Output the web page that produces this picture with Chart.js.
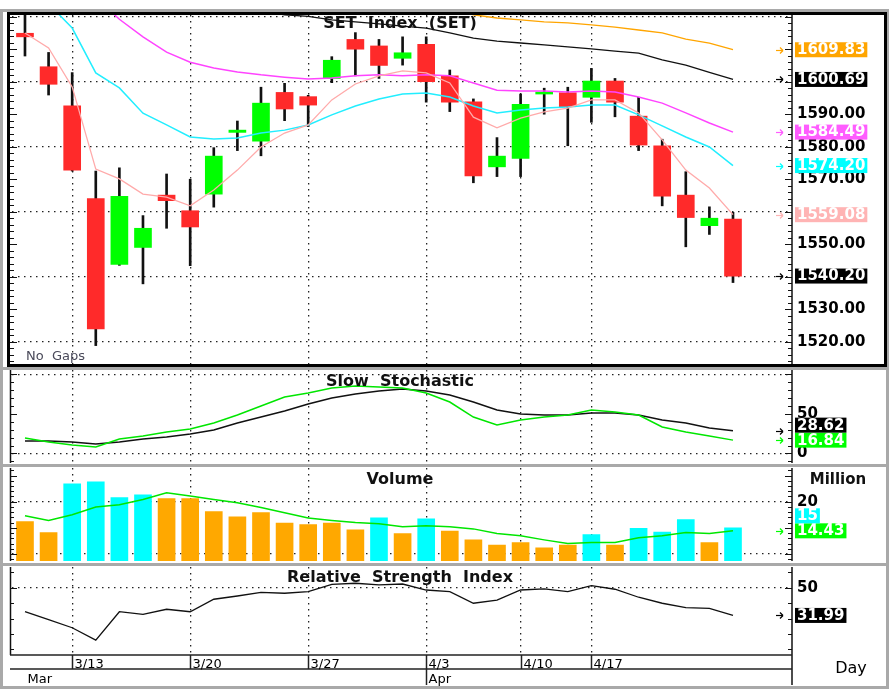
<!DOCTYPE html>
<html>
<head>
<meta charset="utf-8">
<script src="https://cdn.jsdelivr.net/npm/chart.js@4.4.0/dist/chart.umd.min.js"></script>
<style>
    html, body { margin: 0; padding: 0; background: #fff; }
    #wrap { position: relative; width: 890px; height: 691px; overflow: hidden; background: #fff; }
    #wrap canvas { position: absolute; left: 0; }
    .box { position: absolute; box-sizing: border-box; }
</style>
</head>
<body>
<div id="wrap">
    <div class="box" style="left:0;top:9px;width:889px;height:680px;border:3px solid #a9a9a9;"></div>
    <div class="box" style="left:7px;top:12px;width:880px;height:355px;border:3px solid #000;"></div>
    <div class="box" style="left:0;top:367px;width:889px;height:3px;background:#a9a9a9;"></div>
    <div class="box" style="left:0;top:464px;width:889px;height:3px;background:#a9a9a9;"></div>
    <div class="box" style="left:0;top:563px;width:889px;height:3px;background:#a9a9a9;"></div>
    <canvas id="priceChart" width="890" height="349" style="top:15px"></canvas>
    <canvas id="stochChart" width="890" height="93" style="top:370px"></canvas>
    <canvas id="volChart" width="890" height="93" style="top:468px"></canvas>
    <canvas id="rsiChart" width="890" height="121" style="top:567px"></canvas>
</div>
<script>
// Trading days
const days = ['3/9', '3/10', '3/13', '3/14', '3/15', '3/16', '3/17', '3/20', '3/21', '3/22', '3/23', '3/24',
    '3/27', '3/28', '3/29', '3/30', '3/31', '4/3', '4/4', '4/5', '4/7', '4/10', '4/11', '4/12',
    '4/17', '4/18', '4/19', '4/20', '4/21', '4/24', '4/25'];
const dateTicks = ['3/13', '3/20', '3/27', '4/3', '4/10', '4/17'];
const months = ['Mar', 'Apr'];
const monthStarts = ['3/9', '4/3'];

// SET index candles
const open = [1614.9, 1604.6, 1592.6, 1564.0, 1543.8, 1549.0, 1565.1, 1560.3, 1565.4, 1584.4, 1581.7, 1596.7, 1595.4, 1601.0, 1613.0, 1611.0,
    1607.2, 1611.5, 1601.8, 1593.8, 1573.8, 1576.4, 1596.2, 1596.6, 1595.2, 1600.2, 1589.4, 1580.3, 1565.1, 1555.7, 1557.7];
const high = [1621.0, 1609.0, 1602.8, 1572.5, 1573.5, 1558.8, 1571.6, 1570.0, 1579.7, 1587.9, 1598.3, 1599.5, 1595.8, 1607.7, 1615.1, 1613.0,
    1613.8, 1613.8, 1603.6, 1594.7, 1582.8, 1596.2, 1598.0, 1598.3, 1604.1, 1601.0, 1595.2, 1582.3, 1572.3, 1561.5, 1559.8];
const low = [1607.9, 1595.9, 1572.5, 1518.8, 1543.5, 1537.8, 1554.9, 1543.4, 1561.4, 1578.8, 1577.2, 1588.0, 1586.2, 1599.7, 1601.8, 1601.0,
    1605.1, 1593.7, 1590.8, 1568.9, 1570.8, 1570.8, 1590.0, 1580.3, 1587.5, 1589.2, 1578.8, 1561.8, 1549.2, 1553.0, 1538.2];
const close = [1613.8, 1599.2, 1572.8, 1523.9, 1564.7, 1554.9, 1563.4, 1555.3, 1577.1, 1585.1, 1593.4, 1591.6, 1592.8, 1606.6, 1610.0, 1605.0,
    1608.9, 1600.0, 1593.7, 1571.0, 1577.1, 1593.0, 1596.7, 1592.3, 1600.2, 1593.7, 1580.5, 1564.8, 1558.2, 1558.0, 1540.2];

// Moving averages
const pinkMA = [1615.0, 1610.4, 1598.4, 1573.1, 1570.1, 1565.4, 1564.5, 1561.8, 1566.7, 1572.8, 1579.9, 1584.2, 1586.7, 1594.4, 1599.3, 1601.8,
    1603.3, 1602.7, 1599.6, 1589.1, 1585.8, 1588.8, 1590.7, 1591.9, 1594.4, 1594.4, 1590.4, 1582.1, 1572.8, 1567.3, 1559.08];
const cyanMA = [null, 1624.0, 1616.5, 1602.7, 1598.1, 1590.3, 1586.7, 1583.0, 1582.4, 1582.7, 1584.2, 1585.1, 1586.7, 1589.8, 1592.5, 1594.7,
    1596.2, 1596.5, 1595.3, 1592.5, 1590.4, 1591.3, 1591.9, 1592.2, 1592.8, 1592.8, 1589.8, 1586.4, 1583.0, 1579.9, 1574.20];
const magentaMA = [null, null, null, 1626.0, 1619.2, 1613.8, 1609.1, 1606.0, 1604.2, 1603.0, 1602.1, 1601.4, 1600.8, 1601.1, 1601.8, 1602.1,
    1601.8, 1602.1, 1601.8, 1599.6, 1597.4, 1597.1, 1597.1, 1596.8, 1597.1, 1596.8, 1595.3, 1593.4, 1590.4, 1587.3, 1584.49];
const blackMA = [null, null, null, null, null, null, null, null, null, null, 1621.5, 1620.6, 1620.1, 1619.0, 1618.4, 1617.8,
    1617.1, 1616.5, 1615.0, 1613.4, 1612.5, 1611.9, 1611.3, 1610.7, 1610.1, 1609.4, 1608.8, 1606.7, 1605.1, 1602.9, 1600.69];
const orangeMA = [null, null, null, null, null, null, null, null, null, null, null, null, null, null, null, null,
    null, null, 1622.0, 1620.6, 1619.6, 1619.0, 1618.4, 1618.1, 1617.5, 1616.8, 1615.9, 1615.0, 1613.1, 1611.9, 1609.83];

// Slow stochastic
const stochD = [15.8, 15.8, 14.5, 12.0, 14.5, 18.3, 20.8, 24.6, 29.6, 38.5, 46.0, 53.6, 62.4, 70.0, 75.0, 78.8,
    81.3, 78.8, 73.8, 64.9, 54.9, 49.8, 48.5, 48.5, 51.1, 51.1, 48.5, 42.2, 38.5, 32.2, 28.62];
const stochK = [19.5, 14.5, 10.7, 8.2, 18.3, 22.1, 27.1, 30.9, 38.5, 48.5, 59.9, 71.2, 76.3, 82.6, 85.1, 83.9,
    82.6, 76.3, 64.9, 46.0, 35.9, 42.2, 46.0, 48.5, 54.9, 52.3, 48.5, 33.4, 27.1, 22.1, 16.84];

// Volume (million)
const volume = [16.2, 14.1, 23.4, 23.8, 20.8, 21.3, 20.6, 20.6, 18.1, 17.1, 17.9, 15.9, 15.6, 15.9, 14.6, 16.9,
    13.9, 16.7, 14.4, 12.7, 11.7, 12.2, 11.2, 11.7, 13.7, 11.7, 14.9, 14.2, 16.6, 12.2, 15.0];
const volumeMA = [17.3, 16.4, 17.5, 19.0, 19.4, 20.4, 21.7, 21.1, 20.4, 19.8, 18.9, 17.9, 16.9, 16.4, 16.0, 15.8,
    15.2, 15.4, 15.2, 14.8, 13.9, 13.5, 12.7, 12.0, 12.2, 12.2, 13.1, 13.5, 14.1, 13.9, 14.43];

// RSI
const rsi = [34.4, 29.2, 24.0, 16.0, 34.4, 32.7, 36.0, 34.4, 42.5, 44.6, 47.0, 46.4, 47.4, 52.2, 52.9, 51.8,
    52.4, 48.5, 47.4, 39.9, 42.0, 48.5, 49.2, 47.4, 51.3, 49.0, 43.8, 39.9, 37.0, 36.6, 31.99];

// Layout
const FONT = '"DejaVu Sans", sans-serif';
const X_MIN = -0.55;
const X_MAX = 32.5;
const AXIS_W = 98;
const gridIdx = dateTicks.map(d => days.indexOf(d));

const RED = '#ff2a2a';
const GREEN = '#00ff00';
const ORANGE = '#ffa500';
const CYAN = '#00ffff';

Chart.defaults.font.family = FONT;

function xy(arr) {
    return arr.map((v, i) => ({ x: i, y: v }));
}

function xScale() {
    return {
        type: 'linear', position: 'bottom', min: X_MIN, max: X_MAX, offset: false,
        afterBuildTicks: s => { s.ticks = gridIdx.map(v => ({ value: v })); },
        afterFit: s => { s.height = 0; s.paddingLeft = 0; s.paddingRight = 0; },
        ticks: { display: false },
        grid: { color: '#222', lineWidth: 1.3, drawTicks: false, offset: false },
        border: { display: false, dash: [1.5, 4.5] }
    };
}

function yScale(min, max, step, labelVals, gridVals, fmt, boxVals, hideUnits) {
    return {
        type: 'linear', position: 'right', min: min, max: max,
        afterBuildTicks: s => {
            const t = [];
            for (let v = Math.ceil(min / step) * step; v <= max; v += step) {
                t.push({ value: Math.round(v * 100) / 100 });
            }
            s.ticks = t;
        },
        afterFit: s => { s.width = AXIS_W; s.paddingTop = 0; s.paddingBottom = 0; },
        ticks: {
            autoSkip: false, padding: 5, color: '#000',
            font: { family: FONT, size: 15, weight: 'bold' },
            callback: v => {
                if (!labelVals.includes(v)) return '';
                if (boxVals.some(b => Math.abs(b - v) < hideUnits)) return '';
                return fmt(v);
            }
        },
        grid: {
            drawTicks: false, lineWidth: 1.3,
            color: c => gridVals.includes(c.tick.value) ? '#222' : 'rgba(0,0,0,0)'
        },
        border: { display: false, dash: [1.5, 4.5] }
    };
}

function line(ctx, x1, y1, x2, y2) {
    ctx.beginPath();
    ctx.moveTo(x1, y1);
    ctx.lineTo(x2, y2);
    ctx.stroke();
}

// Panel decorations: axis lines, tick marks, titles, last value boxes
const decoPlugin = {
    id: 'deco',
    afterDraw(chart, args, o) {
        const { ctx, chartArea: a } = chart;
        const ys = chart.scales.y;
        ctx.save();
        ctx.strokeStyle = '#111';
        ctx.lineWidth = 1.5;
        if (o.leftLine) line(ctx, a.left - 1.5, a.top, a.left - 1.5, a.bottom);
        line(ctx, a.right, a.top, a.right, a.bottom + (o.axisExtra || 0));

        ctx.lineWidth = 1;
        ys.ticks.forEach(t => {
            const py = Math.round(ys.getPixelForValue(t.value)) + 0.5;
            const len = Math.abs(t.value % o.major) < 0.001 ? 7 : 4;
            line(ctx, a.left - 2, py, a.left - 2 + len, py);
            line(ctx, a.right - len, py, a.right, py);
        });

        ctx.fillStyle = '#111';
        ctx.font = `bold 16px ${FONT}`;
        ctx.textAlign = 'center';
        ctx.textBaseline = 'middle';
        ctx.fillText(o.title, (a.left + a.right) / 2 - 2, a.top + o.titleY);

        if (o.extraText) {
            o.extraText.forEach(t => {
                ctx.font = t.font;
                ctx.fillStyle = t.color;
                ctx.textAlign = t.align;
                ctx.fillText(t.text, t.x, t.y);
            });
        }

        const items = o.boxes.map(b => {
            const val = b.data[b.data.length - 1];
            return { ...b, val: val, py: ys.getPixelForValue(val) };
        });
        items.sort((p, q) => q.py - p.py);
        let prev = Infinity;
        items.forEach(it => {
            it.by = Math.min(it.py, prev - 15);
            prev = it.by;
        });
        ctx.font = `bold 15px ${FONT}`;
        ctx.textAlign = 'left';
        items.forEach(it => {
            const txt = it.fmt(it.val);
            const w = ctx.measureText(txt).width;
            ctx.fillStyle = it.bg;
            ctx.fillRect(a.right + 3, it.by - 7.5, w + 4, 15);
            ctx.fillStyle = '#fff';
            ctx.fillText(txt, a.right + 5, it.by + 0.5);
            if (it.arrow !== false) {
                ctx.strokeStyle = it.bg;
                ctx.lineWidth = 1.2;
                const ay = Math.round(it.py) + 0.5;
                line(ctx, a.right - 16, ay, a.right - 9, ay);
                line(ctx, a.right - 12, ay - 3, a.right - 9, ay);
                line(ctx, a.right - 12, ay + 3, a.right - 9, ay);
            }
        });
        ctx.restore();
    }
};

// Date rows under the last panel
const datePlugin = {
    id: 'dates',
    afterDraw(chart, args, o) {
        if (!o.show) return;
        const { ctx, chartArea: a } = chart;
        const xs = chart.scales.x;
        const top = a.bottom;
        ctx.save();
        ctx.strokeStyle = '#222';
        ctx.lineWidth = 1.5;
        line(ctx, 10, top, a.right, top);
        line(ctx, 10, top + 14, a.right, top + 14);
        ctx.fillStyle = '#000';
        ctx.font = `13px ${FONT}`;
        ctx.textAlign = 'left';
        ctx.textBaseline = 'alphabetic';
        dateTicks.forEach(d => {
            const px = Math.round(xs.getPixelForValue(days.indexOf(d))) + 0.5;
            const isMonth = monthStarts.includes(d);
            line(ctx, px, top, px, top + (isMonth ? 30 : 14));
            ctx.fillText(d, px + 2, top + 13);
        });
        months.forEach((m, i) => {
            const px = Math.round(xs.getPixelForValue(days.indexOf(monthStarts[i]))) + 0.5;
            ctx.fillText(m, px + 2, top + 28);
        });
        ctx.font = `16px ${FONT}`;
        ctx.textAlign = 'center';
        ctx.textBaseline = 'middle';
        ctx.fillText('Day', 851, top + 14);
        ctx.restore();
    }
};

const baseOptions = (padBottom) => ({
    responsive: false,
    animation: false,
    events: [],
    layout: { padding: { left: 12, right: 0, top: 0, bottom: padBottom } },
    plugins: { legend: { display: false }, tooltip: { enabled: false } }
});

function lineSet(data, color, width, order) {
    return {
        type: 'line', data: xy(data), borderColor: color, borderWidth: width,
        pointRadius: 0, tension: 0, fill: false, order: order, clip: 0, spanGaps: false
    };
}

// Price panel
const priceOpts = baseOptions(0);
priceOpts.scales = {
    x: xScale(),
    y: yScale(1513.14, 1620.52, 2,
        [1520, 1530, 1540, 1550, 1560, 1570, 1580, 1590, 1600, 1610],
        [1520, 1540, 1560, 1580, 1600, 1620],
        v => v.toFixed(2),
        [close, pinkMA, cyanMA, magentaMA, blackMA, orangeMA].map(a => a[a.length - 1]), 3)
};
priceOpts.plugins.deco = {
    leftLine: false, major: 10, title: 'SET  Index  (SET)', titleY: 9,
    extraText: [{ text: 'No  Gaps', x: 26, y: 342, font: `13px ${FONT}`, color: '#4a4a5a', align: 'left' }],
    boxes: [
        { data: orangeMA, bg: ORANGE, fmt: v => v.toFixed(2) },
        { data: blackMA, bg: '#000', fmt: v => v.toFixed(2) },
        { data: magentaMA, bg: '#ff5cff', fmt: v => v.toFixed(2) },
        { data: cyanMA, bg: CYAN, fmt: v => v.toFixed(2) },
        { data: pinkMA, bg: '#ffb4b4', fmt: v => v.toFixed(2) },
        { data: close, bg: '#000', fmt: v => v.toFixed(2) }
    ]
};

new Chart(document.getElementById('priceChart'), {
    type: 'bar',
    data: {
        datasets: [
            lineSet(pinkMA, '#ffaaaa', 1.3, 0),
            lineSet(cyanMA, '#22eeff', 1.5, 0),
            lineSet(magentaMA, '#ff44ff', 1.5, 0),
            lineSet(blackMA, '#111', 1.3, 0),
            lineSet(orangeMA, ORANGE, 1.3, 0),
            {
                type: 'bar', order: 1, grouped: false, barThickness: 17, minBarLength: 2,
                data: open.map((o, i) => ({ x: i, y: [o, close[i]] })),
                backgroundColor: open.map((o, i) => close[i] >= o ? GREEN : RED)
            },
            {
                type: 'bar', order: 2, grouped: false, barThickness: 2,
                data: low.map((l, i) => ({ x: i, y: [l, high[i]] })),
                backgroundColor: '#111'
            }
        ]
    },
    options: priceOpts,
    plugins: [decoPlugin]
});

// Stochastic panel
const stochOpts = baseOptions(0);
stochOpts.scales = {
    x: xScale(),
    y: yScale(-12.0, 105.3, 10, [0, 50], [0, 100], v => String(v),
        [stochD[stochD.length - 1], stochK[stochK.length - 1]], 3)
};
stochOpts.plugins.deco = {
    leftLine: true, major: 50, title: 'Slow  Stochastic', titleY: 12,
    boxes: [
        { data: stochD, bg: '#000', fmt: v => v.toFixed(2) },
        { data: stochK, bg: GREEN, fmt: v => v.toFixed(2) }
    ]
};

new Chart(document.getElementById('stochChart'), {
    type: 'line',
    data: {
        datasets: [
            lineSet(stochD, '#111', 1.5, 1),
            lineSet(stochK, '#00e600', 1.5, 0)
        ]
    },
    options: stochOpts,
    plugins: [decoPlugin]
});

// Volume panel
const volOpts = baseOptions(0);
volOpts.scales = {
    x: xScale(),
    y: yScale(8.66, 26.44, 1, [20], [10, 20], v => String(v),
        [volume[volume.length - 1], volumeMA[volumeMA.length - 1]], 1)
};
volOpts.plugins.deco = {
    leftLine: true, major: 5, title: 'Volume', titleY: 12,
    extraText: [{ text: 'Million', x: 838, y: 12, font: `bold 15px ${FONT}`, color: '#111', align: 'center' }],
    boxes: [
        { data: volume, bg: CYAN, fmt: v => String(Math.round(v)), arrow: false },
        { data: volumeMA, bg: GREEN, fmt: v => v.toFixed(2) }
    ]
};

new Chart(document.getElementById('volChart'), {
    type: 'bar',
    data: {
        datasets: [
            lineSet(volumeMA, '#00e600', 1.5, 0),
            {
                type: 'bar', order: 1, grouped: false, barThickness: 17,
                data: xy(volume),
                backgroundColor: volume.map((v, i) => v > volumeMA[i] ? CYAN : '#ffa800')
            }
        ]
    },
    options: volOpts,
    plugins: [decoPlugin]
});

// RSI panel
const rsiOpts = baseOptions(33);
rsiOpts.scales = {
    x: xScale(),
    y: yScale(6.30, 63.44, 10, [50], [50], v => String(v), [rsi[rsi.length - 1]], 3)
};
rsiOpts.plugins.deco = {
    leftLine: true, major: 50, title: 'Relative  Strength  Index', titleY: 11, axisExtra: 30,
    boxes: [{ data: rsi, bg: '#000', fmt: v => v.toFixed(2) }]
};
rsiOpts.plugins.dates = { show: true };

new Chart(document.getElementById('rsiChart'), {
    type: 'line',
    data: { datasets: [lineSet(rsi, '#111', 1.3, 0)] },
    options: rsiOpts,
    plugins: [decoPlugin, datePlugin]
});
</script>
</body>
</html>
